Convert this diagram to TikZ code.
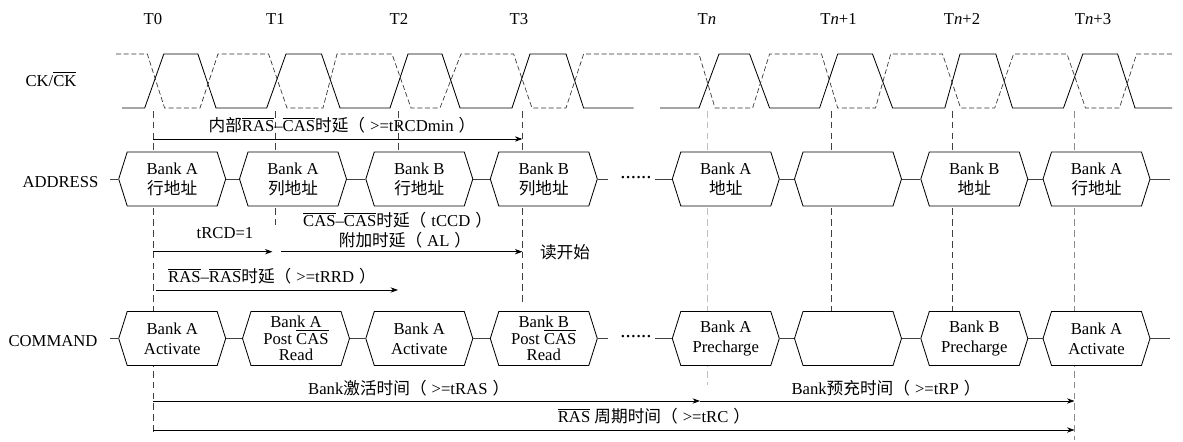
\documentclass[tikz,border=0pt]{standalone}
\usepackage{fontspec}
\setmainfont{Liberation Serif}
\newfontfamily\cjk{Noto Sans CJK SC}
\usetikzlibrary{positioning,arrows.meta,shapes.symbols}
\newcommand{\ovl}[1]{$\overline{\hbox{#1}}$}
\newcommand{\lpar}{{\cjk （}\kern3pt}
\newcommand{\rpar}{\kern3pt{\cjk ）}}
\tikzset{
    busbox/.style={draw, fill=white, signal, signal to=west and east, signal pointer angle=145, minimum width=64.2pt, minimum height=32.4pt, inner sep=0pt, align=center, line width=0.5pt},
    timing/.style={->, >={Stealth[length=4.5pt,width=3.2pt]}, line width=0.5pt},
    guide/.style={dash pattern=on 4pt off 2.5pt, line width=0.4pt, black!75},
    guidelight/.style={dash pattern=on 4pt off 2.5pt, line width=0.5pt, black!25},
    clockn/.style={dash pattern=on 3pt off 1.6pt, line width=0.4pt, black!80},
    busline/.style={line width=0.5pt, black!75},
    lbl/.style={inner sep=0pt}
}
\begin{document}
\begin{tikzpicture}[x=0.6pt, y=-0.6pt]
                \useasboundingbox (0,0) rectangle (1183,442);
                \node (t0) [lbl] at (153,19) {T0};
                \node (t1) [lbl] at (275.5,19) {T1};
                \node (t2) [lbl] at (399,19) {T2};
                \node (t3) [lbl] at (519,19) {T3};
                \node (tn) [lbl] at (707,19) {T\textit{n}};
                \node (tn1) [lbl] at (838.5,19) {T\textit{n}+1};
                \node (tn2) [lbl] at (962,19) {T\textit{n}+2};
                \node (tn3) [lbl] at (1093,19) {T\textit{n}+3};
                \node (ck) [lbl] at (51,79) {CK/\ovl{CK}};
                \node (addr) [lbl] at (60.5,182) {ADDRESS};
                \node (cmd) [lbl] at (53,341) {COMMAND};
                \draw[line width=0.5pt] (122,108) -- (144.7,108) -- (163.8,54) -- (197.9,54) -- (216,108) -- (266.7,108) -- (286,54) -- (321.5,54) -- (340,108) -- (390,108) -- (408,54) -- (442,54) -- (460,108) -- (512,108) -- (530,54) -- (566,54) -- (583.6,108) -- (633.5,108);
                \draw[line width=0.5pt] (660,108) -- (699,108) -- (719,54) -- (749.6,54) -- (769.6,108) -- (819.6,108) -- (837.7,54) -- (872.5,54) -- (892.6,108) -- (944.8,108) -- (960,54) -- (995.8,54) -- (1012.5,108) -- (1063.5,108) -- (1082.8,54) -- (1117.6,54) -- (1135,108) -- (1172,108);
                \draw[clockn] (116,54) -- (147.3,54) -- (164.6,108) -- (200,108) -- (218,54) -- (268.6,54) -- (287,108) -- (323,108) -- (337,54) -- (392,54) -- (411,108) -- (440,108) -- (461,54) -- (513.6,54) -- (532,108) -- (566,108) -- (583.6,54) -- (699,54) -- (715,108) -- (752.6,108) -- (769.6,54) -- (821.5,54) -- (837.7,108) -- (875.5,108) -- (890.7,54) -- (942.5,54) -- (960.6,108) -- (994.7,108) -- (1013.6,54) -- (1067,54) -- (1085.5,108) -- (1119.5,108) -- (1136.5,54) -- (1172,54);
                \coordinate (g0a) at (153,111);
                \coordinate (g0b) at (153,432);
                \coordinate (g1a) at (275.5,111);
                \coordinate (g1b) at (275.5,225);
                \coordinate (g2a) at (398,111);
                \coordinate (g2b) at (398,153);
                \coordinate (g3a) at (522.4,111);
                \coordinate (g3b) at (522.4,302);
                \coordinate (gna) at (707.6,111);
                \coordinate (gnb) at (707.6,385);
                \coordinate (gn1a) at (831,111);
                \coordinate (gn1b) at (831,312);
                \coordinate (gn2a) at (952,111);
                \coordinate (gn2b) at (952,312);
                \coordinate (gn3a) at (1074.5,111);
                \coordinate (gn3b) at (1074.5,440);
                \draw[guide] (g0a) -- (g0b);
                \draw[guide] (g1a) -- (g1b);
                \draw[guide] (g2a) -- (g2b);
                \draw[guide] (g3a) -- (g3b);
                \draw[guidelight] (gna) -- (gnb);
                \draw[guide] (gn1a) -- (gn1b);
                \draw[guide] (gn2a) -- (gn2b);
                \draw[guide, black!45] (gn3a) -- (gn3b);
                \node (a1) [busbox] at (172.2,179) {Bank A\\{\cjk 行地址}};
                \node (a2) [busbox] at (293,179) {Bank A\\{\cjk 列地址}};
                \node (a3) [busbox] at (419.3,179) {Bank B\\{\cjk 行地址}};
                \node (a4) [busbox] at (543.8,179) {Bank B\\{\cjk 列地址}};
                \node (a5) [busbox] at (725.8,179) {Bank A\\{\cjk 地址}};
                \node (a6) [busbox] at (848,179) {};
                \node (a7) [busbox] at (974.3,179) {Bank B\\{\cjk 地址}};
                \node (a8) [busbox] at (1096.5,179) {Bank A\\{\cjk 行地址}};
                \node (c1) [busbox] at (172.2,338.5) {Bank A\\Activate};
                \node (c2) [busbox] at (296,338.5) {Bank A\\[-2pt]Post \ovl{CAS}\\[-2pt]Read};
                \node (c3) [busbox] at (419.3,338.5) {Bank A\\Activate};
                \node (c4) [busbox] at (543.8,338.5) {Bank B\\[-2pt]Post \ovl{CAS}\\[-2pt]Read};
                \node (c5) [busbox] at (725.8,338.5) {Bank A\\Precharge};
                \node (c6) [busbox] at (848,338.5) {};
                \node (c7) [busbox] at (974.3,338.5) {Bank B\\Precharge};
                \node (c8) [busbox] at (1096.5,338.5) {Bank A\\Activate};
                \node (dotsa) [lbl, font=\fontsize{12.5}{12.5}\selectfont] at (636,177.5) {......};
                \node (dotsc) [lbl, font=\fontsize{12.5}{12.5}\selectfont] at (636,336.5) {......};
                \coordinate (ain) at (110,179);
                \coordinate (agapa) at (608,179);
                \coordinate (agapb) at (655,179);
                \coordinate (aout) at (1170,179);
                \coordinate (cin) at (110,338.5);
                \coordinate (cgapa) at (608,338.5);
                \coordinate (cgapb) at (655,338.5);
                \coordinate (cout) at (1170,338.5);
                \draw[busline] (ain) -- (a1.west);
                \draw[busline] (a1.east) -- (a2.west);
                \draw[busline] (a2.east) -- (a3.west);
                \draw[busline] (a3.east) -- (a4.west);
                \draw[busline] (a4.east) -- (agapa);
                \draw[busline] (agapb) -- (a5.west);
                \draw[busline] (a5.east) -- (a6.west);
                \draw[busline] (a6.east) -- (a7.west);
                \draw[busline] (a7.east) -- (a8.west);
                \draw[busline] (a8.east) -- (aout);
                \draw[busline] (cin) -- (c1.west);
                \draw[busline] (c1.east) -- (c2.west);
                \draw[busline] (c2.east) -- (c3.west);
                \draw[busline] (c3.east) -- (c4.west);
                \draw[busline] (c4.east) -- (cgapa);
                \draw[busline] (cgapb) -- (c5.west);
                \draw[busline] (c5.east) -- (c6.west);
                \draw[busline] (c6.east) -- (c7.west);
                \draw[busline] (c7.east) -- (c8.west);
                \draw[busline] (c8.east) -- (cout);
                \node (lrcdmin) [lbl] at (342,125) {{\cjk 内部}\ovl{RAS}--\ovl{CAS}{\cjk 时延}\lpar >=tRCDmin\rpar};
                \node (lrcd) [lbl] at (225,233) {tRCD=1};
                \node (lccd) [lbl] at (397.6,220) {\ovl{CAS}--\ovl{CAS}{\cjk 时延}\lpar tCCD\rpar};
                \node (lal) [lbl] at (405,240) {{\cjk 附加时延}\lpar AL\rpar};
                \node (lread) [lbl] at (565,252) {\cjk 读开始};
                \node (lrrd) [lbl] at (272,276) {\ovl{RAS}--\ovl{RAS}{\cjk 时延}\lpar >=tRRD\rpar};
                \node (lras) [lbl] at (408.7,388) {Bank{\cjk 激活时间}\lpar >=tRAS\rpar};
                \node (lrp) [lbl] at (886,388) {Bank{\cjk 预充时间}\lpar >=tRP\rpar};
                \node (lrc) [lbl] at (654,416) {\ovl{RAS} {\cjk 周期时间}\lpar >=tRC\rpar};
                \coordinate (rcdmina) at (153,139);
                \coordinate (rcdminb) at (522.4,139);
                \coordinate (rcda) at (153,251.7);
                \coordinate (rcdb) at (272.5,251.7);
                \coordinate (ala) at (281,251.7);
                \coordinate (alb) at (522.4,251.7);
                \coordinate (rrda) at (156,290);
                \coordinate (rrdb) at (398,290);
                \coordinate (rasa) at (153,401);
                \coordinate (rasb) at (700,401);
                \coordinate (rpb) at (1074.5,401);
                \coordinate (rca) at (153,430);
                \coordinate (rcb) at (1074.5,430);
                \draw[timing] (rcdmina) -- (rcdminb);
                \draw[timing] (rcda) -- (rcdb);
                \draw[timing] (ala) -- (alb);
                \draw[timing] (rrda) -- (rrdb);
                \draw[timing] (rasa) -- (rasb);
                \draw[timing] (rasb) -- (rpb);
                \draw[timing] (rca) -- (rcb);
            \end{tikzpicture}
\end{document}
